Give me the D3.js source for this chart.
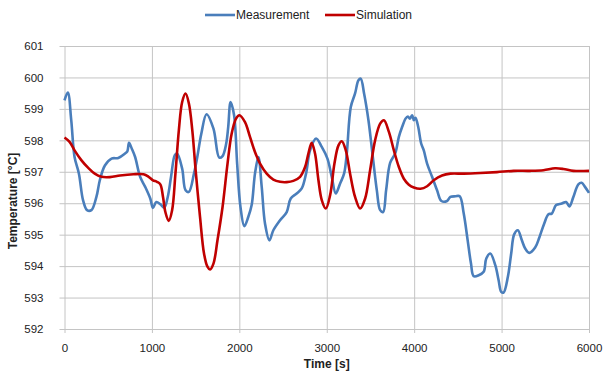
<!DOCTYPE html>
<html>
<head>
<meta charset="utf-8">
<script src="https://cdn.jsdelivr.net/npm/d3@7"></script>
<style>
  body { margin: 0; background: #fff; }
  text { font-family: "Liberation Sans", Arial, sans-serif; fill: #222; }
</style>
</head>
<body>
<div id="chart_div"></div>
<script>
// values
const xTicks = [0, 1000, 2000, 3000, 4000, 5000, 6000];
const yTicks = [592, 593, 594, 595, 596, 597, 598, 599, 600, 601];
const seriesNames = ["Measurement", "Simulation"];
const seriesColors = ["#4a7ebb", "#c00000"];

const measTime = [0, 38, 77, 115, 165, 212, 258, 308, 365, 404, 462, 538, 615, 692, 719, 738, 769, 808, 865, 923,
    981, 1012, 1050, 1096, 1142, 1181, 1219, 1262, 1288, 1346, 1385, 1423, 1481, 1519, 1565, 1625, 1704, 1770, 1808, 1850,
    1873, 1900, 1940, 1975, 2013, 2057, 2103, 2141, 2179, 2218, 2256, 2294, 2344, 2389, 2466, 2542, 2588, 2656, 2714, 2763,
    2809, 2878, 2943, 3008, 3057, 3103, 3153, 3198, 3229, 3275, 3324, 3363, 3389, 3427, 3477, 3527, 3573, 3611, 3645, 3679,
    3725, 3785, 3825, 3863, 3901, 3928, 3951, 3977, 3996, 4015, 4046, 4080, 4110, 4148, 4205, 4262, 4312, 4376, 4414, 4471,
    4521, 4567, 4612, 4650, 4681, 4738, 4795, 4825, 4871, 4928, 4966, 4996, 5023, 5072, 5110, 5144, 5186, 5232, 5270, 5316,
    5384, 5433, 5487, 5536, 5574, 5624, 5688, 5738, 5776, 5821, 5878, 5916, 5954, 6000];
const measTemp = [599.27, 599.52, 598.64, 597.47, 596.94, 596.1, 595.78, 595.78, 596.2, 596.73, 597.2, 597.42, 597.44, 597.58, 597.65, 597.92, 597.74, 597.47, 596.84, 596.52,
    596.15, 595.85, 596.04, 595.97, 595.86, 596.2, 596.84, 597.53, 597.58, 597.1, 596.41, 596.36, 596.94, 597.47, 598.21, 598.83, 598.37, 597.45, 597.5, 597.9,
    598.43, 599.22, 598.8, 597.26, 595.88, 595.27, 595.57, 595.94, 596.94, 597.47, 596.52, 595.35, 594.82, 595.14, 595.46, 595.72, 596.15, 596.31, 596.47, 596.94,
    597.68, 598.06, 597.79, 597.42, 596.84, 596.31, 596.63, 596.94, 597.58, 599.06, 599.49, 599.91, 599.96, 599.49, 598.64, 597.47, 596.41, 595.78, 595.72, 596.41,
    597.28, 597.6, 598.11, 598.43, 598.69, 598.76, 598.69, 598.8, 598.64, 598.72, 598.43, 597.9, 597.68, 597.26, 596.84, 596.41, 596.07, 596.07, 596.2, 596.22,
    596.22, 595.67, 594.82, 594.08, 593.68, 593.71, 593.82, 594.24, 594.4, 594.03, 593.55, 593.18, 593.16, 593.66, 594.4, 595.01, 595.14, 594.82, 594.56, 594.42,
    594.59, 594.92, 595.35, 595.65, 595.67, 595.94, 595.99, 596.04, 595.9, 596.2, 596.6, 596.65, 596.52, 596.33];

const simTime = [0, 58, 115, 192, 269, 346, 423, 519, 635, 788, 904, 962, 1012, 1058, 1096, 1127, 1154, 1192, 1231, 1269,
    1308, 1346, 1385, 1423, 1462, 1500, 1550, 1596, 1635, 1665, 1704, 1750, 1808, 1865, 1912, 1962, 2000, 2065, 2122, 2179,
    2237, 2313, 2389, 2466, 2542, 2618, 2695, 2752, 2790, 2828, 2866, 2905, 2943, 2989, 3038, 3088, 3134, 3172, 3218, 3267,
    3324, 3382, 3439, 3496, 3553, 3611, 3654, 3711, 3768, 3825, 3882, 3939, 3996, 4072, 4148, 4224, 4319, 4414, 4567, 4757,
    4947, 5137, 5327, 5479, 5612, 5707, 5821, 6000];
const simTemp = [598.09, 597.95, 597.68, 597.37, 597.13, 596.94, 596.84, 596.83, 596.88, 596.92, 596.92, 596.84, 596.73, 596.68, 596.6, 596.2, 595.72, 595.44, 595.78, 596.94,
    598.32, 599.22, 599.49, 599.17, 598.32, 597.05, 595.57, 594.4, 593.98, 593.89, 594.08, 594.82, 595.88, 597.26, 598.21, 598.69, 598.8, 598.58, 598.11, 597.63,
    597.26, 596.94, 596.75, 596.68, 596.67, 596.71, 596.84, 597.15, 597.58, 597.92, 597.58, 596.73, 596.1, 595.83, 596.25, 597.26, 597.84, 597.97, 597.68, 596.94,
    596.2, 595.83, 596.15, 597.05, 598.0, 598.53, 598.64, 598.27, 597.68, 597.15, 596.78, 596.59, 596.5, 596.46, 596.54, 596.73, 596.88, 596.94, 596.94, 596.96,
    596.99, 597.03, 597.03, 597.05, 597.11, 597.09, 597.03, 597.03];

var width = 614, height = 376;
var plot = {left: 64.5, right: 589, top: 46, bottom: 329};

var svg = d3.select("#chart_div").append("svg")
    .attr("width", width)
    .attr("height", height);

var x = d3.scaleLinear().domain([0, 6000]).range([plot.left, plot.right]);
var y = d3.scaleLinear().domain([592, 601]).range([plot.bottom, plot.top]);

// grid, with the little outside ticks
svg.append("g")
    .attr("transform", "translate(0," + plot.bottom + ")")
    .call(d3.axisBottom(x).tickValues(xTicks).tickFormat(d3.format("d")).tickSize(-(plot.bottom - plot.top)))
    .call(g => g.select(".domain").remove())
    .call(g => g.selectAll(".tick line").attr("stroke", "#c4c4c4").attr("y2", 4).attr("y1", -(plot.bottom - plot.top)))
    .call(g => g.selectAll(".tick text").attr("y", 19).attr("dy", "0.32em")
        .style("font-size", "11.5px").attr("fill", "#222"));

svg.append("g")
    .attr("transform", "translate(" + plot.left + ",0)")
    .call(d3.axisLeft(y).tickValues(yTicks).tickSize(-(plot.right - plot.left)))
    .call(g => g.select(".domain").remove())
    .call(g => g.selectAll(".tick line").attr("stroke", "#c4c4c4").attr("x1", -5))
    .call(g => g.selectAll(".tick text").attr("x", -21)
        .style("font-size", "11.5px").attr("fill", "#222"));

// the two curves
var line = d3.line()
    .x(d => x(d[0]))
    .y(d => y(d[1]))
    .curve(d3.curveCatmullRom.alpha(0.5));

var series = [d3.zip(measTime, measTemp), d3.zip(simTime, simTemp)];

svg.append("g").selectAll("path")
    .data(series)
    .enter()
    .append("path")
    .attr("d", d => line(d))
    .attr("fill", "none")
    .attr("stroke", (d, i) => seriesColors[i])
    .attr("stroke-width", 2.6)
    .attr("stroke-linejoin", "round");

// legend
var legendX = [205, 325];
var legend = svg.append("g").selectAll("g")
    .data(seriesNames)
    .enter()
    .append("g")
    .attr("transform", (d, i) => "translate(" + legendX[i] + ",15)");
legend.append("line")
    .attr("x1", 0).attr("x2", 30)
    .attr("stroke", (d, i) => seriesColors[i])
    .attr("stroke-width", 2.6);
legend.append("text")
    .attr("x", 31)
    .attr("dy", "0.35em")
    .style("font-size", "12px")
    .text(d => d);

// axis titles
svg.append("text")
    .attr("x", (plot.left + plot.right) / 2)
    .attr("y", 368)
    .attr("text-anchor", "middle")
    .style("font-size", "12px")
    .style("font-weight", "bold")
    .text("Time [s]");

svg.append("g")
    .attr("transform", "translate(17,201)")
    .append("text")
    .attr("text-anchor", "middle")
    .attr("transform", "rotate(-90)")
    .style("font-size", "12px")
    .style("font-weight", "bold")
    .text("Temperature [°C]");
</script>
</body>
</html>
